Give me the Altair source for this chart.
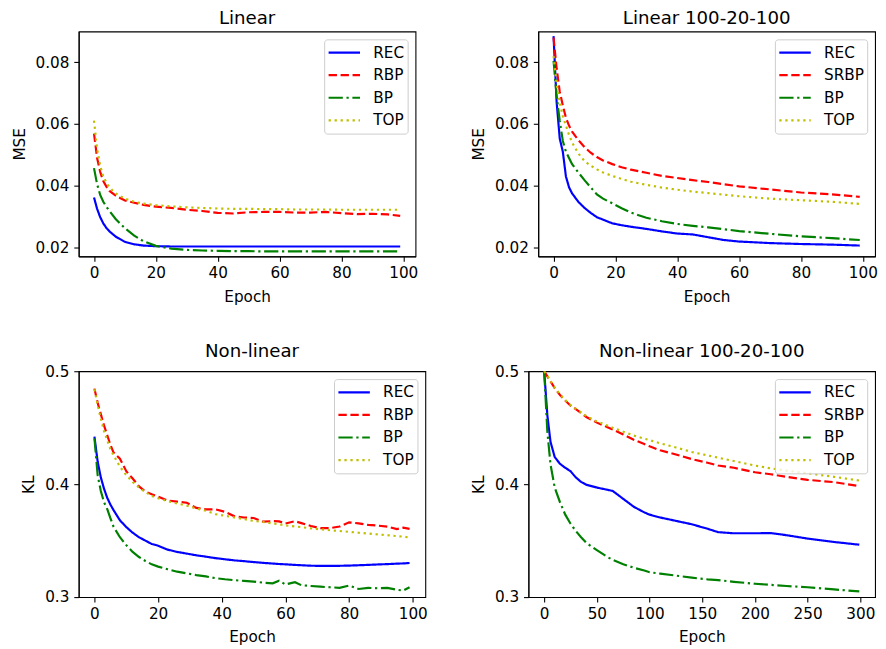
import altair as alt
import pandas as pd

# ---------------- data ----------------
# Panel 1: Linear (MSE)
lin_epoch = [0, 1, 2, 3, 4, 5, 7, 10, 13, 16, 20, 25, 30, 35, 40, 45, 50, 55, 60, 65, 70, 75, 80, 85, 90, 95, 99]
lin_rec = [0.0362, 0.0325, 0.0298, 0.0278, 0.0263, 0.0252, 0.0235, 0.0218, 0.0210, 0.0206, 0.0204, 0.0203, 0.0203,
           0.0203, 0.0203, 0.0203, 0.0203, 0.0203, 0.0203, 0.0203, 0.0203, 0.0203, 0.0203, 0.0203, 0.0203, 0.0203, 0.0203]
lin_rbp = [0.0569, 0.0490, 0.0445, 0.0415, 0.0397, 0.0383, 0.0368, 0.0352, 0.0345, 0.0338, 0.0332, 0.0328, 0.0322,
           0.0318, 0.0312, 0.0310, 0.0314, 0.0315, 0.0315, 0.0313, 0.0313, 0.0315, 0.0311, 0.0308, 0.0309, 0.0307, 0.0302]
lin_bp = [0.0457, 0.0405, 0.0370, 0.0348, 0.0332, 0.0318, 0.0292, 0.0262, 0.0238, 0.0220, 0.0205, 0.0196, 0.0192,
          0.0190, 0.0189, 0.0188, 0.0188, 0.0187, 0.0187, 0.0187, 0.0187, 0.0187, 0.0187, 0.0187, 0.0187, 0.0187, 0.0187]
lin_top = [0.0611, 0.0520, 0.0465, 0.0430, 0.0410, 0.0395, 0.0375, 0.0358, 0.0348, 0.0342, 0.0337, 0.0333, 0.0330,
           0.0328, 0.0326, 0.0325, 0.0325, 0.0324, 0.0324, 0.0323, 0.0323, 0.0323, 0.0322, 0.0322, 0.0322, 0.0322, 0.0322]

# Panel 2: Linear 100-20-100 (MSE)
lin2_epoch = [0, 1, 2, 3, 4, 5, 6, 8, 10, 12, 14, 16, 19, 22, 25, 30, 35, 40, 45, 50, 55, 60, 70, 80, 90, 99]
lin2_rec = [0.0885, 0.0670, 0.0553, 0.0510, 0.0430, 0.0395, 0.0375, 0.0348, 0.0328, 0.0312, 0.0298, 0.0290, 0.0278,
            0.0272, 0.0267, 0.0260, 0.0252, 0.0245, 0.0242, 0.0233, 0.0224, 0.0219, 0.0214, 0.0211, 0.0209, 0.0206]
lin2_srbp = [0.0880, 0.0780, 0.0705, 0.0660, 0.0620, 0.0595, 0.0575, 0.0548, 0.0525, 0.0507, 0.0493, 0.0482, 0.0470,
             0.0460, 0.0452, 0.0442, 0.0432, 0.0425, 0.0418, 0.0412, 0.0405, 0.0398, 0.0388, 0.0378, 0.0372, 0.0364]
lin2_bp = [0.0805, 0.0690, 0.0610, 0.0545, 0.0510, 0.0490, 0.0470, 0.0443, 0.0418, 0.0395, 0.0372, 0.0358, 0.0343,
           0.0327, 0.0313, 0.0296, 0.0285, 0.0276, 0.0270, 0.0265, 0.0259, 0.0253, 0.0244, 0.0236, 0.0230, 0.0224]
lin2_top = [0.0820, 0.0730, 0.0670, 0.0625, 0.0595, 0.0565, 0.0540, 0.0505, 0.0480, 0.0465, 0.0453, 0.0443, 0.0432,
            0.0422, 0.0413, 0.0403, 0.0394, 0.0387, 0.0381, 0.0376, 0.0371, 0.0366, 0.0358, 0.0353, 0.0348, 0.0341]

# Panel 3: Non-linear (KL)
nl_epoch = [0, 1, 2, 3, 4, 5, 6, 8, 10, 12, 14, 16, 18, 20, 23, 26, 29, 32, 35, 38, 41, 44, 47, 50, 53, 56, 58, 60,
            63, 65, 68, 71, 74, 77, 80, 83, 86, 89, 92, 95, 97, 99]
nl_rec = [0.442, 0.420, 0.406, 0.396, 0.388, 0.382, 0.377, 0.368, 0.362, 0.357, 0.353, 0.350, 0.347, 0.3455, 0.342,
          0.340, 0.3385, 0.337, 0.3358, 0.3345, 0.3335, 0.3325, 0.3318, 0.331, 0.3303, 0.3297, 0.3293, 0.329, 0.3285,
          0.3282, 0.3278, 0.3276, 0.3276, 0.3277, 0.3279, 0.3282, 0.3285, 0.3289, 0.3292, 0.3296, 0.3298, 0.3302]
nl_rbp = [0.4846, 0.472, 0.462, 0.452, 0.4435, 0.435, 0.428, 0.4225, 0.4115, 0.405, 0.398, 0.3935, 0.391, 0.389,
          0.3855, 0.3845, 0.3835, 0.379, 0.3777, 0.3777, 0.3755, 0.3715, 0.3705, 0.370, 0.3668, 0.3673, 0.367, 0.3652,
          0.3672, 0.3655, 0.363, 0.361, 0.361, 0.3625, 0.3662, 0.3653, 0.3639, 0.3633, 0.3624, 0.3602, 0.3615, 0.3604]
nl_bp = [0.4406, 0.408, 0.394, 0.384, 0.378, 0.370, 0.3623, 0.353, 0.346, 0.340, 0.3355, 0.332, 0.329, 0.327, 0.3246,
         0.3225, 0.321, 0.3195, 0.3183, 0.3168, 0.3158, 0.315, 0.3143, 0.3137, 0.3128, 0.3122, 0.3145, 0.3112, 0.3132,
         0.3105, 0.3098, 0.3092, 0.3087, 0.3082, 0.3102, 0.3072, 0.3082, 0.3078, 0.3082, 0.3065, 0.3058, 0.3087]
nl_top = [0.484, 0.470, 0.458, 0.447, 0.439, 0.431, 0.4255, 0.4155, 0.408, 0.402, 0.397, 0.393, 0.3895, 0.3875, 0.385,
          0.3828, 0.381, 0.3785, 0.3765, 0.3735, 0.372, 0.3705, 0.369, 0.3675, 0.3665, 0.3652, 0.3645, 0.3635, 0.3625,
          0.362, 0.3608, 0.360, 0.3592, 0.3585, 0.3578, 0.357, 0.3563, 0.3555, 0.3548, 0.354, 0.3535, 0.3528]

# Panel 4: Non-linear 100-20-100 (KL)
nl2_epoch = [0, 3, 6, 10, 15, 20, 25, 30, 35, 40, 50, 60, 65, 75, 85, 95, 100, 110, 125, 140, 155, 165, 180, 200,
             215, 230, 250, 275, 299]
nl2_rec = [0.500, 0.461, 0.4375, 0.424, 0.418, 0.4145, 0.4115, 0.406, 0.402, 0.3995, 0.397, 0.395, 0.394, 0.387,
           0.380, 0.375, 0.373, 0.3705, 0.3675, 0.3645, 0.3605, 0.3575, 0.3565, 0.3565, 0.3567, 0.3548, 0.3518,
           0.3488, 0.3464]
nl2_srbp = [0.500, 0.4955, 0.491, 0.485, 0.479, 0.474, 0.4695, 0.4665, 0.463, 0.4595, 0.4545, 0.4505, 0.4485, 0.444,
            0.4393, 0.4355, 0.4335, 0.430, 0.4263, 0.4222, 0.419, 0.4165, 0.4145, 0.4105, 0.4088, 0.4065, 0.4038,
            0.4018, 0.3983]
nl2_bp = [0.500, 0.4465, 0.4175, 0.397, 0.384, 0.373, 0.365, 0.3585, 0.353, 0.348, 0.3415, 0.3355, 0.333, 0.329,
          0.326, 0.3235, 0.322, 0.3208, 0.319, 0.3172, 0.3157, 0.315, 0.3135, 0.3118, 0.3108, 0.3098, 0.3087, 0.3068,
          0.3050]
nl2_top = [0.500, 0.496, 0.4915, 0.4855, 0.4795, 0.4745, 0.470, 0.4668, 0.4635, 0.4603, 0.4555, 0.452, 0.450, 0.4465,
           0.443, 0.4403, 0.439, 0.4362, 0.4325, 0.4285, 0.4255, 0.4235, 0.4205, 0.4165, 0.414, 0.412, 0.4097, 0.4065,
           0.4032]

COLORS = ["#0000ff", "#ff0000", "#008000", "#bfbf00"]
DASHES = [[1, 0], [8.5, 3.7], [14.5, 3.7, 2.3, 3.7], [2.3, 3.8]]
FONT = "DejaVu Sans"
FS = 15.5


def long_df(epochs, names, series):
    rows = []
    for name, vals in zip(names, series):
        for e, v in zip(epochs, vals):
            rows.append({"epoch": e, "value": v, "series": name})
    return pd.DataFrame(rows)


def panel(df, title, ylabel, names, xdom, xticks, ydom, yticks, yfmt, w, h):
    legend = alt.Legend(
        title=None, orient="top-right", offset=8,
        fillColor="rgba(255,255,255,0.8)", strokeColor="#cccccc", cornerRadius=3,
        padding=3, labelFontSize=FS, labelFont=FONT, labelColor="black",
        symbolType="stroke", symbolSize=1024, symbolStrokeWidth=2.2,
        labelOffset=12, rowPadding=2, clipHeight=21,
    )
    return alt.Chart(df, title=alt.Title(title)).mark_line(strokeWidth=2.2, clip=True).encode(
        x=alt.X("epoch:Q", scale=alt.Scale(domain=xdom, nice=False, zero=False),
                axis=alt.Axis(values=xticks, title="Epoch", format="d", titlePadding=8)),
        y=alt.Y("value:Q", scale=alt.Scale(domain=ydom, nice=False, zero=False),
                axis=alt.Axis(values=yticks, title=ylabel, format=yfmt, titlePadding=8)),
        color=alt.Color("series:N", scale=alt.Scale(domain=names, range=COLORS), legend=legend),
        strokeDash=alt.StrokeDash("series:N", scale=alt.Scale(domain=names, range=DASHES), legend=legend),
    ).properties(width=w, height=h)


names1 = ["REC", "RBP", "BP", "TOP"]
names2 = ["REC", "SRBP", "BP", "TOP"]

p1 = panel(long_df(lin_epoch, names1, [lin_rec, lin_rbp, lin_bp, lin_top]), "Linear", "MSE", names1,
           [-4.95, 103.95], [0, 20, 40, 60, 80, 100], [0.0171, 0.0900], [0.02, 0.04, 0.06, 0.08], ".2f", 343, 229)
p2 = panel(long_df(lin2_epoch, names2, [lin2_rec, lin2_srbp, lin2_bp, lin2_top]), "Linear 100-20-100", "MSE", names2,
           [-4.95, 103.95], [0, 20, 40, 60, 80, 100], [0.0171, 0.0900], [0.02, 0.04, 0.06, 0.08], ".2f", 343, 229)
p3 = panel(long_df(nl_epoch, names1, [nl_rec, nl_rbp, nl_bp, nl_top]), "Non-linear", "KL", names1,
           [-4.95, 103.95], [0, 20, 40, 60, 80, 100], [0.3, 0.5], [0.3, 0.4, 0.5], ".1f", 353, 230)
p4 = panel(long_df(nl2_epoch, names2, [nl2_rec, nl2_srbp, nl2_bp, nl2_top]), "Non-linear 100-20-100", "KL", names2,
           [-14.95, 313.95], [0, 50, 100, 150, 200, 250, 300], [0.3, 0.5], [0.3, 0.4, 0.5], ".1f", 353, 230)

chart = alt.concat(
    p1, p2, p3, p4, columns=2, align="none", spacing={"row": 36, "column": 43}
).resolve_scale(
    color="independent", strokeDash="independent"
).resolve_legend(color="independent", strokeDash="independent").properties(
    padding={"left": 3, "top": -6, "right": 0, "bottom": 0}
).configure(font=FONT).configure_view(
    stroke="black", strokeWidth=1.1
).configure_axis(
    labelFont=FONT, titleFont=FONT, labelFontSize=FS, titleFontSize=FS, titleFontWeight="normal",
    labelColor="black", titleColor="black", tickColor="black", domainColor="black",
    tickSize=5, tickWidth=1.1, domainWidth=1.1, labelPadding=5, grid=False,
    labelFlush=False, labelOverlap=False,
).configure_title(
    font=FONT, fontSize=18.5, fontWeight="normal", color="black", anchor="middle", offset=4,
)

chart.save("out.html", embed_options={"renderer": "svg", "actions": False})
